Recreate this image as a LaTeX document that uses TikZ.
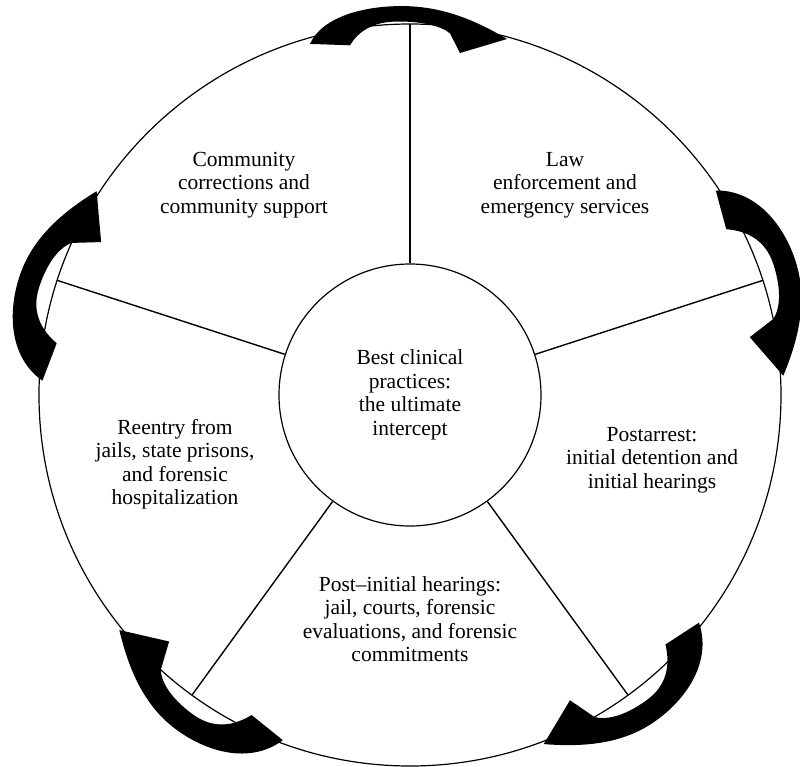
\documentclass[tikz,border=0pt]{standalone}
\usepackage{fontspec}
\setmainfont{Liberation Serif}
\usetikzlibrary{positioning}

\begin{document}
\begin{tikzpicture}[x=1pt, y=1pt,
		hub/.style={circle, draw, line width=1.2pt, minimum size=262pt, inner sep=0pt, align=center, font={\fontsize{21.5}{23.5}\selectfont}},
		sector/.style={align=center, font={\fontsize{21.5}{23.5}\selectfont}},
		rim/.style={draw, line width=1.2pt},
		spoke/.style={draw, line width=1.4pt},
		turnarrow/.pic={\fill (-100,-17) .. controls (-88,22) and (-45,38) .. (-5,37) .. controls (30,36) and (62,20) .. (97,-10) -- (50,-30) -- (40,-2) .. controls (30,10) and (10,15) .. (-12,15) .. controls (-38,15) and (-52,0) .. (-60,-19) -- cycle;}]
	\useasboundingbox (-410,-371) rectangle (390,395);
	% Rim
	\path [rim] (0,0) circle [radius=371pt];
	\coordinate (e1) at (90:371);
	\coordinate (e2) at (18:371);
	\coordinate (e3) at (-54:371);
	\coordinate (e4) at (-126:371);
	\coordinate (e5) at (162:371);

	% Nodes
	\node [hub] (hub) at (0,0) {Best clinical\\practices:\\the ultimate\\intercept};
	\node [sector] (community) at (-166,210) {Community\\corrections and\\community support};
	\node [sector] (law) at (155,210) {Law\\enforcement and\\emergency services};
	\node [sector] (postarrest) at (242,-65) {Postarrest:\\initial detention and\\initial hearings};
	\node [sector] (postinitial) at (0,-224) {Post–initial hearings:\\jail, courts, forensic\\evaluations, and forensic\\commitments};
	\node [sector] (reentry) at (-235,-69) {Reentry from\\jails, state prisons,\\and forensic\\hospitalization};

	% Paths
	\path [spoke] (hub.90) -- (e1);
	\path [spoke] (hub.18) -- (e2);
	\path [spoke] (hub.-54) -- (e3);
	\path [spoke] (hub.-126) -- (e4);
	\path [spoke] (hub.162) -- (e5);

	% Turn arrows
	\pic [yshift=-8pt, yscale=0.7] at (e1) {turnarrow};
	\pic [rotate=-72] at (e2) {turnarrow};
	\pic [rotate=-144] at (e3) {turnarrow};
	\pic [rotate=-216] at (e4) {turnarrow};
	\pic [rotate=72] at (e5) {turnarrow};
\end{tikzpicture}
\end{document}
